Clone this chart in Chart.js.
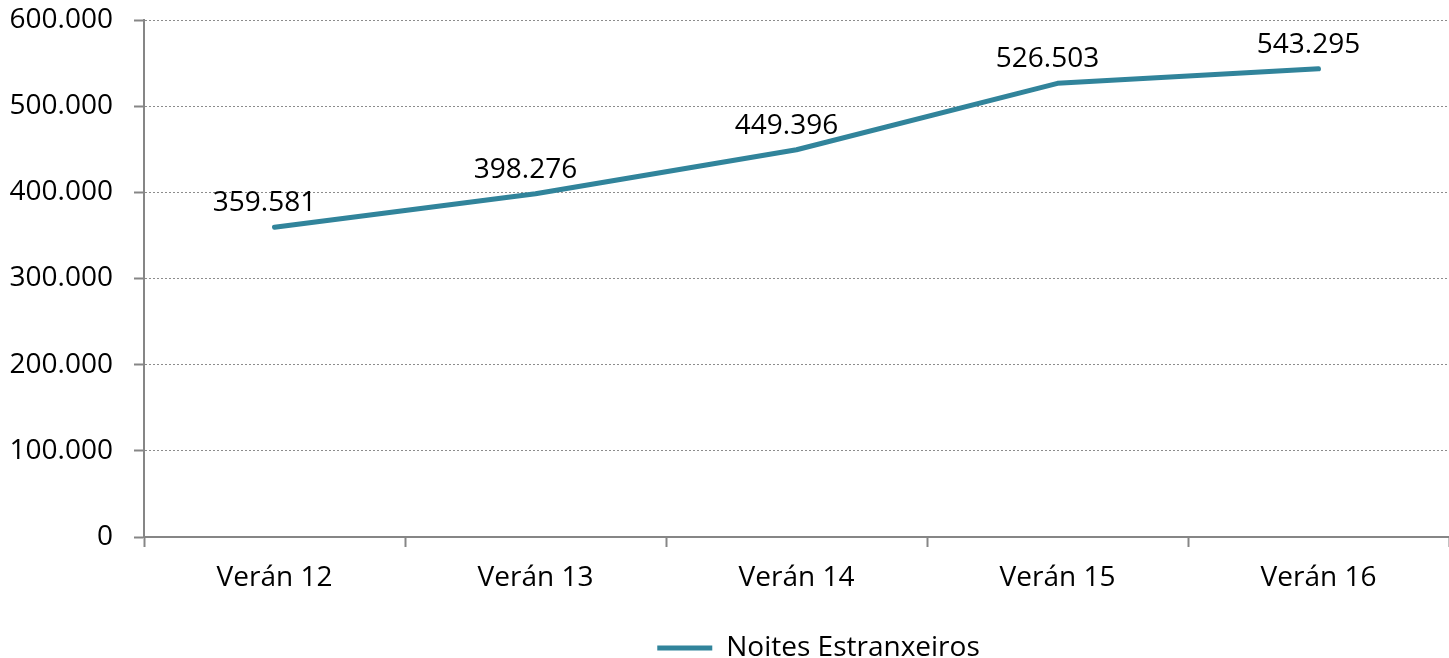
<!DOCTYPE html>
<html>
<head>
<meta charset="utf-8">
<script src="https://cdn.jsdelivr.net/npm/chart.js@4/dist/chart.umd.min.js"></script>
<style>
  html, body { margin: 0; padding: 0; background: #fff; }
  #wrap { width: 1449px; height: 658px; }
</style>
</head>
<body>
<div id="wrap"><canvas id="myChart" width="1449" height="658"></canvas></div>
<script>
const categorias = ["Verán 12", "Verán 13", "Verán 14", "Verán 15", "Verán 16"];
const noitesEstranxeiros = [359581, 398276, 449396, 526503, 543295];
const yTicks = [0, 100000, 200000, 300000, 400000, 500000, 600000];

const teal = "#31849B";
const gris = "#868686";
const fonte = "'Open Sans', 'Noto Sans', sans-serif";

// formato galego: 600.000
function fmt(v) {
    return String(v).replace(/\B(?=(\d{3})+(?!\d))/g, ".");
}

// etiquetas de datos enriba de cada punto
const etiquetas = {
    id: "etiquetas",
    afterDatasetsDraw(chart) {
        const ctx = chart.ctx;
        const meta = chart.getDatasetMeta(0);
        ctx.save();
        ctx.font = "28px " + fonte;
        ctx.fillStyle = "#000";
        ctx.textAlign = "center";
        ctx.textBaseline = "middle";
        meta.data.forEach((p, i) => {
            ctx.fillText(fmt(chart.data.datasets[0].data[i]), p.x - 10, p.y - 24);
        });
        ctx.restore();
    }
};

// a lenda de Excel non vai centrada no lenzo
const moverLenda = {
    id: "moverLenda",
    afterLayout(chart) {
        const lg = chart.legend;
        lg.left += 94;
        lg.right += 94;
        lg.top += 14;
        lg.bottom += 14;
    }
};

let grafico = new Chart("myChart", {
    type: "line",
    data: {
        labels: categorias,
        datasets: [{
            label: "Noites Estranxeiros",
            data: noitesEstranxeiros,
            borderColor: teal,
            backgroundColor: teal,
            borderWidth: 5,
            borderCapStyle: "round",
            borderJoinStyle: "round",
            pointRadius: 0,
            pointHoverRadius: 0,
            tension: 0,
            fill: false
        }]
    },
    options: {
        responsive: false,
        animation: false,
        layout: { padding: { top: 20, right: 0, left: 0, bottom: 0 } },
        plugins: {
            tooltip: { enabled: false },
            legend: {
                display: true,
                position: "bottom",
                labels: {
                    usePointStyle: true,
                    pointStyle: "line",
                    pointStyleWidth: 55,
                    padding: 10,
                    color: "#000",
                    font: { family: fonte, size: 28 }
                }
            }
        },
        scales: {
            x: {
                offset: true,
                grid: {
                    offset: true,
                    drawOnChartArea: false,
                    drawTicks: true,
                    tickLength: 10,
                    tickColor: gris,
                    tickWidth: 2,
                    color: gris
                },
                border: { display: true, color: gris, width: 2 },
                ticks: {
                    color: "#000",
                    padding: 14,
                    maxRotation: 0,
                    font: { family: fonte, size: 28 }
                },
                afterFit(scale) { scale.height = 73; }
            },
            y: {
                min: 0,
                max: 600000,
                afterBuildTicks(scale) {
                    scale.ticks = yTicks.map(v => ({ value: v }));
                },
                grid: {
                    color: "#8c8c8c",
                    lineWidth: 1,
                    tickLength: 10,
                    tickColor: gris,
                    tickWidth: 2,
                    tickBorderDash: []
                },
                border: { display: true, color: gris, width: 2, dash: [2, 2] },
                ticks: {
                    color: "#000",
                    padding: 21,
                    font: { family: fonte, size: 28 },
                    callback: (v) => fmt(v)
                },
                afterFit(scale) {
                    scale.width = 144;
                    scale.paddingTop = 0;
                    scale.paddingBottom = 0;
                }
            }
        }
    },
    plugins: [etiquetas, moverLenda]
});
</script>
</body>
</html>
